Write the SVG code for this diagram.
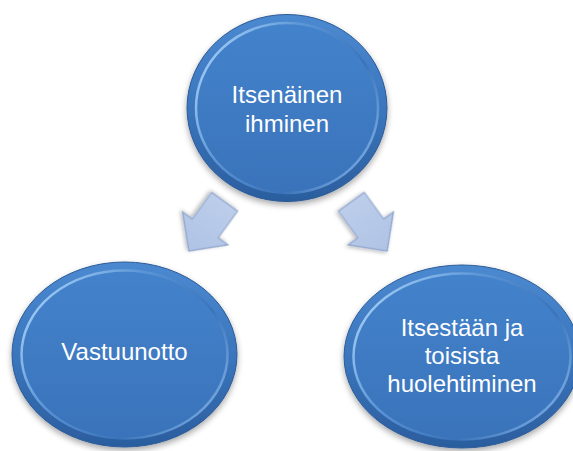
<svg xmlns="http://www.w3.org/2000/svg" width="573" height="451" viewBox="0 0 573 451">
  <style>
    .rim { fill: url(#rimGrad); stroke: #2b5b97; stroke-width: 1; filter: url(#shadow); }
    .face { fill: url(#faceGrad); stroke: url(#hlGrad); stroke-width: 2.5; }
    .lbl { font-family: "Liberation Sans", Arial, sans-serif; font-size: 24px; fill: #ffffff; text-anchor: middle; }
    .arrow { fill: url(#arrowGrad); stroke: #8ea4cc; stroke-width: 1.2; stroke-linejoin: miter; filter: url(#ashadow); }
  </style>
  <defs>
    <linearGradient id="rimGrad" x1="0" y1="0" x2="0" y2="1">
      <stop offset="0" stop-color="#4b89d0"/>
      <stop offset="0.5" stop-color="#3b76bd"/>
      <stop offset="1" stop-color="#2b5d9e"/>
    </linearGradient>
    <linearGradient id="faceGrad" x1="0" y1="0" x2="0" y2="1">
      <stop offset="0" stop-color="#4383cc"/>
      <stop offset="1" stop-color="#3a73ba"/>
    </linearGradient>
    <linearGradient id="hlGrad" x1="0" y1="0.2" x2="1" y2="0.8">
      <stop offset="0" stop-color="#a6d0f7"/>
      <stop offset="0.35" stop-color="#5b95d6"/>
      <stop offset="0.7" stop-color="#3a73b9"/>
      <stop offset="1" stop-color="#7fb0e6"/>
    </linearGradient>
    <linearGradient id="arrowGrad" x1="0" y1="0" x2="1" y2="0">
      <stop offset="0" stop-color="#bccdea"/>
      <stop offset="1" stop-color="#afc3e5"/>
    </linearGradient>
    <filter id="shadow" x="-20%" y="-20%" width="140%" height="150%">
      <feGaussianBlur in="SourceAlpha" stdDeviation="3"/>
      <feOffset dy="3" result="b"/>
      <feComponentTransfer><feFuncA type="linear" slope="0.35"/></feComponentTransfer>
      <feMerge><feMergeNode/><feMergeNode in="SourceGraphic"/></feMerge>
    </filter>
    <filter id="ashadow" x="-30%" y="-30%" width="160%" height="160%">
      <feGaussianBlur in="SourceAlpha" stdDeviation="2"/>
      <feOffset dy="2"/>
      <feComponentTransfer><feFuncA type="linear" slope="0.3"/></feComponentTransfer>
      <feMerge><feMergeNode/><feMergeNode in="SourceGraphic"/></feMerge>
    </filter>
    <path id="blockArrow" d="M-30,-16 L3,-16 L3,-28 L31,0 L3,28 L3,16 L-30,16 Z"/>
  </defs>

  <g id="connectors">
    <use href="#blockArrow" class="arrow" transform="translate(207,226) rotate(126)"/>
    <use href="#blockArrow" class="arrow" transform="translate(369,226) rotate(54)"/>
  </g>

  <g id="node-itsenainen">
    <ellipse class="rim" cx="287" cy="108" rx="100" ry="93.5"/>
    <ellipse class="face" cx="287" cy="108" rx="91" ry="85"/>
    <text class="lbl" x="287" y="103">Itsenäinen</text>
    <text class="lbl" x="287" y="132">ihminen</text>
  </g>

  <g id="node-vastuunotto">
    <ellipse class="rim" cx="124.5" cy="354.5" rx="112.5" ry="92.5"/>
    <ellipse class="face" cx="124.5" cy="354.5" rx="103" ry="84"/>
    <text class="lbl" x="124.5" y="360">Vastuunotto</text>
  </g>

  <g id="node-huolehtiminen">
    <ellipse class="rim" cx="462" cy="356.5" rx="118" ry="91.5"/>
    <ellipse class="face" cx="462" cy="356.5" rx="108.5" ry="83"/>
    <text class="lbl" x="462" y="336">Itsestään ja</text>
    <text class="lbl" x="462" y="364">toisista</text>
    <text class="lbl" x="462" y="392">huolehtiminen</text>
  </g>
</svg>
